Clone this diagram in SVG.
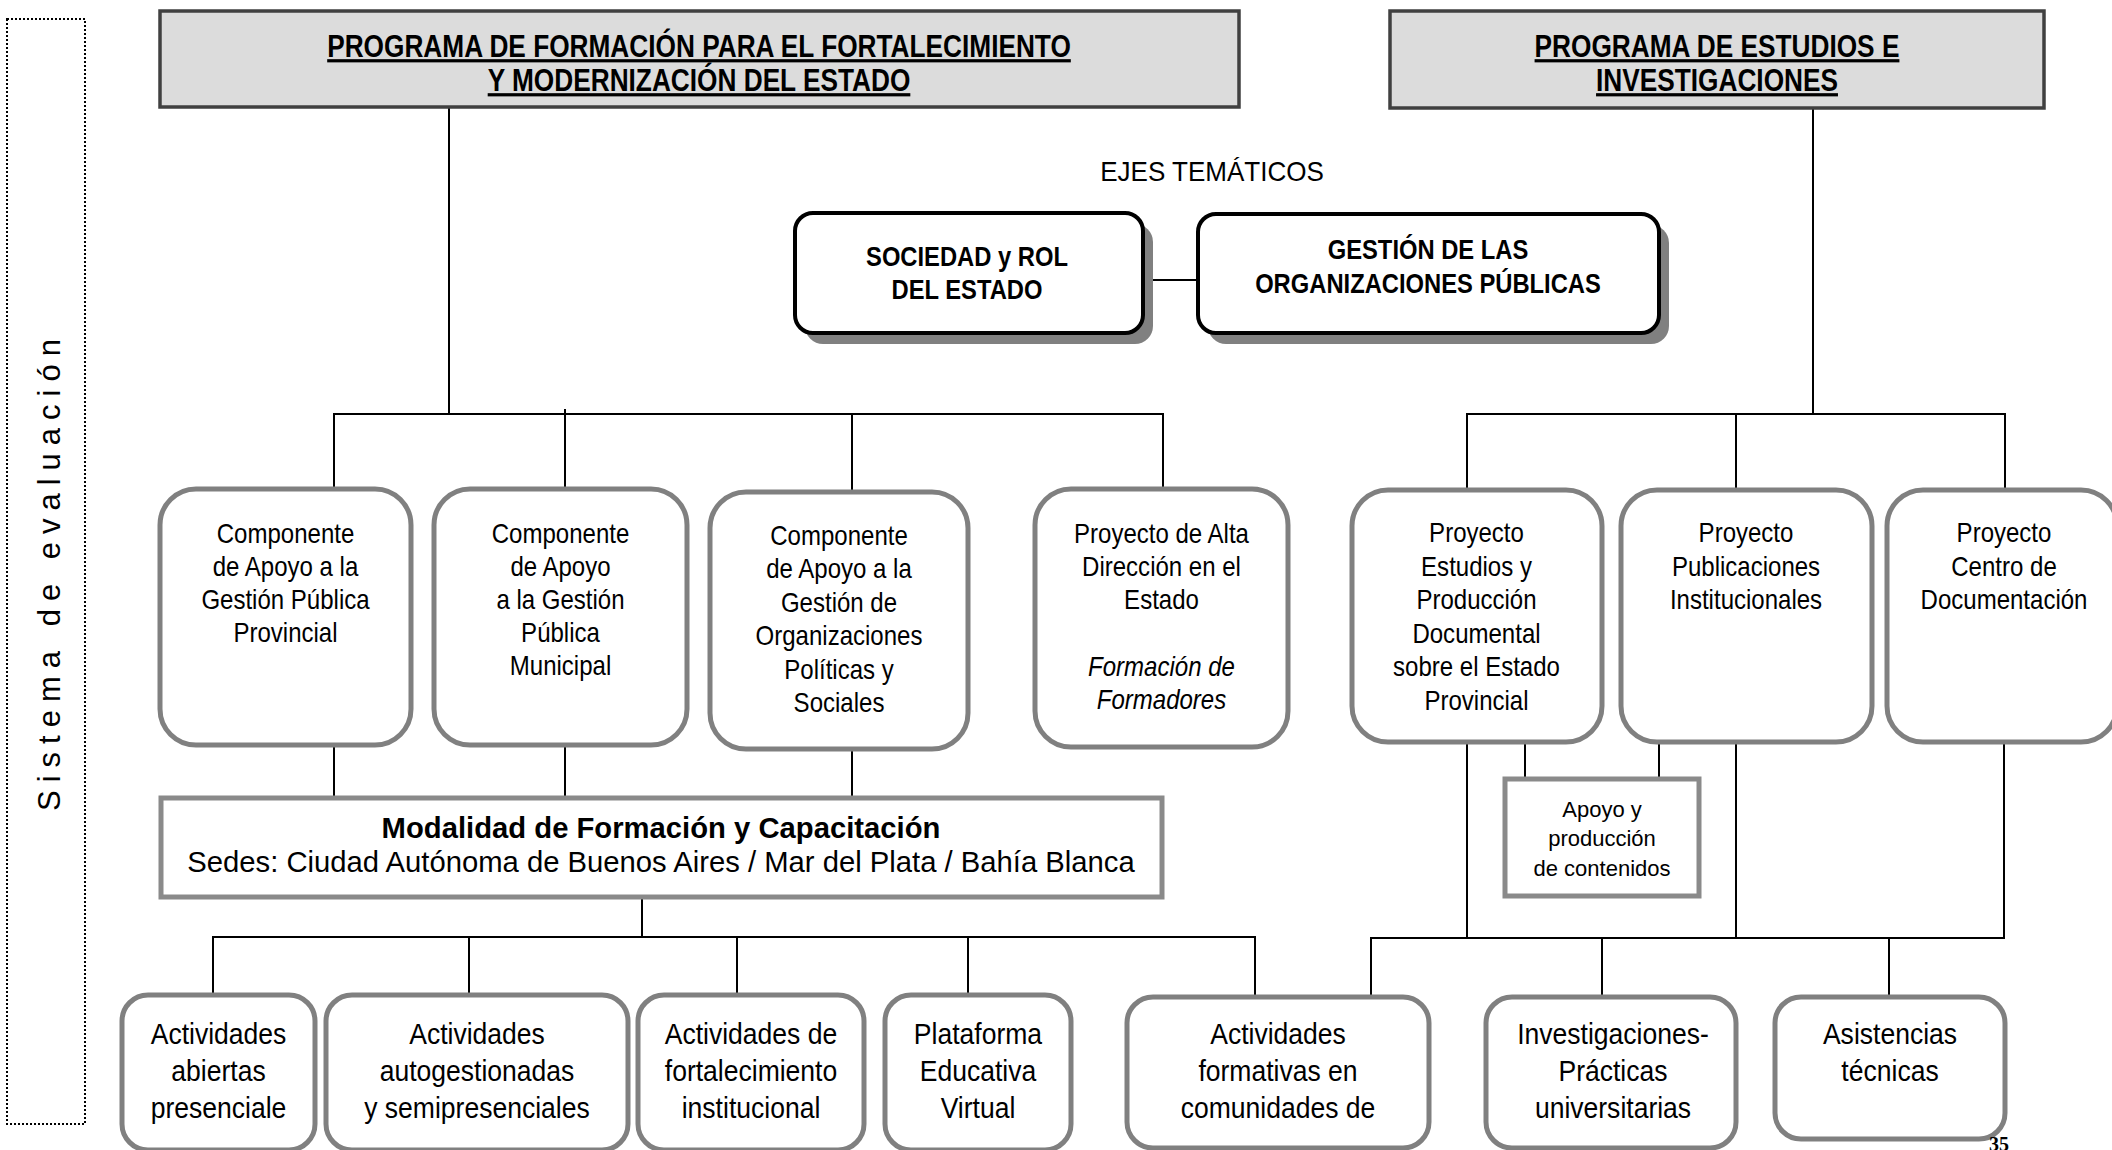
<svg xmlns="http://www.w3.org/2000/svg" width="2112" height="1150" viewBox="0 0 2112 1150">
<style>
text{font-family:"Liberation Sans",Arial,sans-serif;fill:#000;text-anchor:middle}
.hdr{fill:#dcdcdc;stroke:#404040;stroke-width:3.5}
.ht{font-size:32px;font-weight:bold;text-decoration:underline}
.theme{fill:#fff;stroke:#000;stroke-width:4}
.shadow{fill:#808080;stroke:none}
.tt{font-size:27px;font-weight:bold}
.comp{fill:#fff;stroke:#808080;stroke-width:5}
.ct{font-size:27px}
.bt{font-size:29px}
.sq{fill:#fff;stroke:#8a8a8a;stroke-width:5}
.at{font-size:22px}
.conn line{stroke:#000;stroke-width:2}
</style>

<g id="sistema-evaluacion">
<rect x="7" y="19" width="78" height="1105" fill="none" stroke="#000" stroke-width="2" stroke-dasharray="2 2"/>
<text transform="translate(60 571) rotate(-90)" style="font-size:31px;letter-spacing:8px">Sistema de evaluación</text>
</g>

<g id="conectores" class="conn">
<line x1="449" y1="107" x2="449" y2="414"/>
<line x1="333" y1="414" x2="1164" y2="414"/>
<line x1="334" y1="414" x2="334" y2="489"/>
<line x1="565" y1="409" x2="565" y2="489"/>
<line x1="852" y1="414" x2="852" y2="492"/>
<line x1="1163" y1="414" x2="1163" y2="489"/>
<line x1="1813" y1="108" x2="1813" y2="414"/>
<line x1="1466" y1="414" x2="2006" y2="414"/>
<line x1="1467" y1="414" x2="1467" y2="490"/>
<line x1="1736" y1="414" x2="1736" y2="490"/>
<line x1="2005" y1="414" x2="2005" y2="490"/>
<line x1="1143" y1="280" x2="1198" y2="280"/>
<line x1="334" y1="745" x2="334" y2="798"/>
<line x1="565" y1="745" x2="565" y2="798"/>
<line x1="852" y1="749" x2="852" y2="798"/>
<line x1="642" y1="897" x2="642" y2="937"/>
<line x1="212" y1="937" x2="1256" y2="937"/>
<line x1="213" y1="937" x2="213" y2="995"/>
<line x1="469" y1="937" x2="469" y2="995"/>
<line x1="737" y1="937" x2="737" y2="995"/>
<line x1="968" y1="937" x2="968" y2="995"/>
<line x1="1255" y1="937" x2="1255" y2="997"/>
<line x1="1467" y1="742" x2="1467" y2="938"/>
<line x1="1525" y1="742" x2="1525" y2="779"/>
<line x1="1659" y1="742" x2="1659" y2="779"/>
<line x1="1736" y1="742" x2="1736" y2="938"/>
<line x1="2004" y1="742" x2="2004" y2="938"/>
<line x1="1370" y1="938" x2="2005" y2="938"/>
<line x1="1371" y1="938" x2="1371" y2="997"/>
<line x1="1602" y1="938" x2="1602" y2="997"/>
<line x1="1889" y1="938" x2="1889" y2="997"/>
</g>

<g id="programa-formacion">
<rect class="hdr" x="160" y="11" width="1079" height="96"/>
<text class="ht" transform="translate(699 0) scale(0.82 1)"><tspan x="0" y="57">PROGRAMA DE FORMACIÓN PARA EL FORTALECIMIENTO</tspan><tspan x="0" y="91">Y MODERNIZACIÓN DEL ESTADO</tspan></text>
</g>

<g id="programa-estudios">
<rect class="hdr" x="1390" y="11" width="654" height="97"/>
<text class="ht" transform="translate(1717 0) scale(0.82 1)"><tspan x="0" y="57">PROGRAMA DE ESTUDIOS E</tspan><tspan x="0" y="91">INVESTIGACIONES</tspan></text>
</g>

<g id="ejes-tematicos">
<text transform="translate(1212 0) scale(0.93 1)" style="font-size:28px" y="181">EJES TEMÁTICOS</text>
</g>

<g id="eje-sociedad">
<rect class="shadow" x="805" y="224" width="348" height="120" rx="18"/>
<rect class="theme" x="795" y="213" width="348" height="120" rx="18"/>
<text class="tt" transform="translate(967 0) scale(0.88 1)"><tspan x="0" y="266">SOCIEDAD y ROL</tspan><tspan x="0" y="299">DEL ESTADO</tspan></text>
</g>

<g id="eje-gestion">
<rect class="shadow" x="1208" y="225" width="461" height="119" rx="18"/>
<rect class="theme" x="1198" y="214" width="461" height="119" rx="18"/>
<text class="tt" transform="translate(1428 0) scale(0.88 1)"><tspan x="0" y="259">GESTIÓN DE LAS</tspan><tspan x="0" y="293">ORGANIZACIONES PÚBLICAS</tspan></text>
</g>

<g id="comp-provincial">
<rect class="comp" x="160" y="489" width="251" height="256" rx="36"/>
<text class="ct" transform="translate(285.5 0) scale(0.89 1)"><tspan x="0" y="543">Componente</tspan><tspan x="0" y="576">de Apoyo a la</tspan><tspan x="0" y="609">Gestión Pública</tspan><tspan x="0" y="642">Provincial</tspan></text>
</g>

<g id="comp-municipal">
<rect class="comp" x="434" y="489" width="253" height="256" rx="36"/>
<text class="ct" transform="translate(560.5 0) scale(0.89 1)"><tspan x="0" y="543">Componente</tspan><tspan x="0" y="576">de Apoyo</tspan><tspan x="0" y="609">a la Gestión</tspan><tspan x="0" y="642">Pública</tspan><tspan x="0" y="675">Municipal</tspan></text>
</g>

<g id="comp-organizaciones">
<rect class="comp" x="710" y="492" width="258" height="257" rx="36"/>
<text class="ct" transform="translate(839 0) scale(0.89 1)"><tspan x="0" y="545">Componente</tspan><tspan x="0" y="578.4">de Apoyo a la</tspan><tspan x="0" y="611.8">Gestión de</tspan><tspan x="0" y="645.2">Organizaciones</tspan><tspan x="0" y="678.6">Políticas y</tspan><tspan x="0" y="712">Sociales</tspan></text>
</g>

<g id="proy-alta-direccion">
<rect class="comp" x="1035" y="489" width="253" height="258" rx="36"/>
<text class="ct" transform="translate(1161.5 0) scale(0.89 1)"><tspan x="0" y="543">Proyecto de Alta</tspan><tspan x="0" y="576">Dirección en el</tspan><tspan x="0" y="609">Estado</tspan><tspan x="0" y="676" font-style="italic">Formación de</tspan><tspan x="0" y="709" font-style="italic">Formadores</tspan></text>
</g>

<g id="proy-estudios">
<rect class="comp" x="1352" y="490" width="250" height="252" rx="36"/>
<text class="ct" transform="translate(1476.5 0) scale(0.89 1)"><tspan x="0" y="542">Proyecto</tspan><tspan x="0" y="575.6">Estudios y</tspan><tspan x="0" y="609.2">Producción</tspan><tspan x="0" y="642.8">Documental</tspan><tspan x="0" y="676.4">sobre el Estado</tspan><tspan x="0" y="710">Provincial</tspan></text>
</g>

<g id="proy-publicaciones">
<rect class="comp" x="1621" y="490" width="251" height="252" rx="36"/>
<text class="ct" transform="translate(1746 0) scale(0.89 1)"><tspan x="0" y="542">Proyecto</tspan><tspan x="0" y="575.6">Publicaciones</tspan><tspan x="0" y="609.2">Institucionales</tspan></text>
</g>

<g id="proy-documentacion">
<rect class="comp" x="1887" y="490" width="230" height="252" rx="36"/>
<text class="ct" transform="translate(2004 0) scale(0.89 1)"><tspan x="0" y="542">Proyecto</tspan><tspan x="0" y="575.6">Centro de</tspan><tspan x="0" y="609.2">Documentación</tspan></text>
</g>

<g id="apoyo-produccion">
<rect class="sq" x="1505" y="779" width="194" height="117" stroke-width="4"/>
<text class="at"><tspan x="1602" y="817">Apoyo y</tspan><tspan x="1602" y="846">producción</tspan><tspan x="1602" y="876">de contenidos</tspan></text>
</g>

<g id="modalidad">
<rect class="sq" x="161" y="798" width="1001" height="99"/>
<text transform="translate(661 0) scale(0.975 1)" style="font-size:30px"><tspan x="0" y="838" font-weight="bold">Modalidad de Formación y Capacitación</tspan><tspan x="0" y="872">Sedes: Ciudad Autónoma de Buenos Aires / Mar del Plata / Bahía Blanca</tspan></text>
</g>

<g id="act-abiertas">
<rect class="comp" x="122" y="995" width="193" height="155" rx="26" stroke-width="4"/>
<text class="bt" transform="translate(218.5 0) scale(0.915 1)"><tspan x="0" y="1044">Actividades</tspan><tspan x="0" y="1081">abiertas</tspan><tspan x="0" y="1118">presenciale</tspan></text>
</g>

<g id="act-autogestionadas">
<rect class="comp" x="326" y="995" width="302" height="155" rx="26" stroke-width="4"/>
<text class="bt" transform="translate(477 0) scale(0.915 1)"><tspan x="0" y="1044">Actividades</tspan><tspan x="0" y="1081">autogestionadas</tspan><tspan x="0" y="1118">y semipresenciales</tspan></text>
</g>

<g id="act-fortalecimiento">
<rect class="comp" x="638" y="995" width="226" height="155" rx="26" stroke-width="4"/>
<text class="bt" transform="translate(751 0) scale(0.915 1)"><tspan x="0" y="1044">Actividades de</tspan><tspan x="0" y="1081">fortalecimiento</tspan><tspan x="0" y="1118">institucional</tspan></text>
</g>

<g id="plataforma">
<rect class="comp" x="885" y="995" width="186" height="155" rx="26" stroke-width="4"/>
<text class="bt" transform="translate(978 0) scale(0.915 1)"><tspan x="0" y="1044">Plataforma</tspan><tspan x="0" y="1081">Educativa</tspan><tspan x="0" y="1118">Virtual</tspan></text>
</g>

<g id="act-formativas">
<rect class="comp" x="1127" y="997" width="302" height="151" rx="26" stroke-width="4"/>
<text class="bt" transform="translate(1278 0) scale(0.915 1)"><tspan x="0" y="1044">Actividades</tspan><tspan x="0" y="1081">formativas en</tspan><tspan x="0" y="1118">comunidades de</tspan></text>
</g>

<g id="investigaciones">
<rect class="comp" x="1486" y="997" width="250" height="151" rx="26" stroke-width="4"/>
<text class="bt" transform="translate(1613 0) scale(0.915 1)"><tspan x="0" y="1044">Investigaciones-</tspan><tspan x="0" y="1081">Prácticas</tspan><tspan x="0" y="1118">universitarias</tspan></text>
</g>

<g id="asistencias">
<rect class="comp" x="1775" y="997" width="230" height="142" rx="26" stroke-width="4"/>
<text class="bt" transform="translate(1890 0) scale(0.915 1)"><tspan x="0" y="1044">Asistencias</tspan><tspan x="0" y="1081">técnicas</tspan></text>
</g>

<text x="1999" y="1151" style="font-family:'Liberation Serif','Times New Roman',serif;font-size:20px;font-weight:bold">35</text>
</svg>
